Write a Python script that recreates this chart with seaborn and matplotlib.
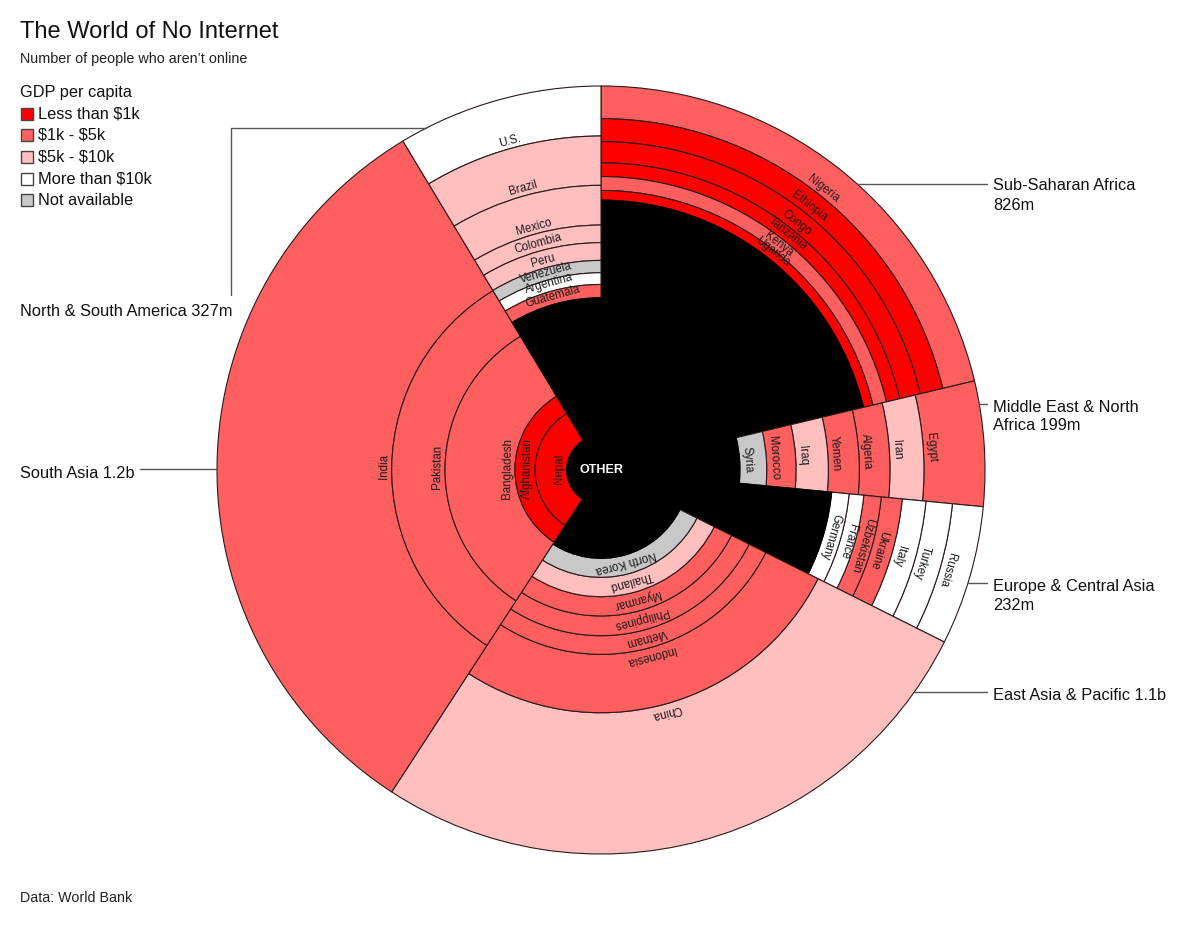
import numpy as np
import matplotlib
matplotlib.use("Agg")
import matplotlib.pyplot as plt
import seaborn as sns
from matplotlib.patches import Rectangle
from matplotlib.lines import Line2D

sns.set_theme(style="white")
plt.rcParams['font.family'] = ['Liberation Sans', 'DejaVu Sans']
plt.rcParams['text.parse_math'] = False

# ---------------- data (millions of people offline) ----------------
region_names = ["Sub-Saharan Africa", "Middle East & North Africa", "Europe & Central Asia",
                "East Asia & Pacific", "South Asia", "North & South America"]

ssa_countries = ["Nigeria", "Ethiopia", "Congo", "Tanzania", "Kenya", "Uganda"]
ssa_values = [134.6, 87.6, 75.2, 46.3, 44.6, 29.7]
ssa_gdp = ["mid", "low", "low", "low", "mid", "low"]
ssa_other = 408.0

me_countries = ["Egypt", "Iran", "Algeria", "Yemen", "Iraq", "Morocco", "Syria"]
me_values = [59.7, 28.8, 23.2, 20.8, 18.9, 14.6, 11.3]
me_gdp = ["mid", "high", "mid", "mid", "high", "mid", "na"]
me_other = 26.7

eu_countries = ["Russia", "Turkey", "Italy", "Ukraine", "Uzbekistan", "France", "Germany"]
eu_values = [35.3, 27.9, 23.2, 19.0, 14.8, 11.7, 13.0]
eu_gdp = ["rich", "rich", "rich", "mid", "mid", "rich", "rich"]
eu_other = 83.0

ea_countries = ["China", "Indonesia", "Vietnam", "Philippines", "Myanmar", "Thailand", "North Korea"]
ea_values = [624.5, 175.9, 46.0, 43.4, 37.0, 32.0, 26.2]
ea_gdp = ["high", "mid", "mid", "mid", "mid", "high", "na"]
ea_other = 55.0

sa_countries = ["India", "Pakistan", "Bangladesh", "Afghanistan", "Nepal"]
sa_values = [879.0, 165.0, 143.5, 25.9, 26.9]
sa_gdp = ["mid", "mid", "mid", "low", "low"]
sa_other = 10.0

am_countries = ["U.S.", "Brazil", "Mexico", "Colombia", "Peru", "Venezuela", "Argentina", "Guatemala"]
am_values = [81.6, 69.3, 47.8, 18.9, 17.6, 11.4, 10.2, 10.8]
am_gdp = ["rich", "high", "high", "high", "high", "na", "rich", "mid"]
am_other = 67.4

gdp_keys = ["low", "mid", "high", "rich", "na"]
gdp_labels = ["Less than $1k", "$1k - $5k", "$5k - $10k", "More than $10k", "Not available"]
gdp_colors = ["#ff0000", "#ff5f5f", "#ffbfbf", "#ffffff", "#c8c8c8"]

region_label_lines = [["Sub-Saharan Africa", "826m"], ["Middle East & North", "Africa 199m"],
                      ["Europe & Central Asia", "232m"], ["East Asia & Pacific 1.1b"],
                      ["South Asia 1.2b"], ["North & South America 327m"]]

# ---------------- figure ----------------
W, H = 1178, 925
fig = plt.figure(figsize=(W / 100, H / 100), dpi=100)
fig.patch.set_facecolor("white")

cx, cy, Rpx = 601, 470, 384
rmax = 1.01
ax = fig.add_axes([(cx - Rpx * rmax) / W, (H - cy - Rpx * rmax) / H,
                   2 * Rpx * rmax / W, 2 * Rpx * rmax / H], projection="polar")
ax.set_theta_zero_location("N")
ax.set_theta_direction(-1)
ax.set_ylim(0, rmax)
ax.set_axis_off()

cmap = dict(zip(gdp_keys, gdp_colors))
regions = [
    (ssa_countries, ssa_values, ssa_gdp, ssa_other),
    (me_countries, me_values, me_gdp, me_other),
    (eu_countries, eu_values, eu_gdp, eu_other),
    (ea_countries, ea_values, ea_gdp, ea_other),
    (sa_countries, sa_values, sa_gdp, sa_other),
    (am_countries, am_values, am_gdp, am_other),
]
totals = np.array([sum(v) + o for (_, v, _, o) in regions])
widths = totals / totals.sum() * 2 * np.pi
starts = np.concatenate([[0], np.cumsum(widths)[:-1]])

edge = "#2a1a1a"
pad = 1.5 / Rpx
for (names, vals, gdp, other), t0, w, T in zip(regions, starts, widths, totals):
    mid = t0 + w / 2
    cum = 0.0
    r_out = 1.0
    for n, v, g in zip(names, vals, gdp):
        cum += v
        r_in = np.sqrt(max(1 - cum / T, 0))
        ax.bar(mid, r_out - r_in, width=w, bottom=r_in, color=cmap[g],
               edgecolor=edge, linewidth=0.8, align="center", clip_on=False)
        rot = -np.degrees(mid)
        ax.text(mid, r_in + pad, n, rotation=rot, rotation_mode="anchor",
                ha="center", va="bottom", fontsize=8.3, color="#1a1a1a")
        r_out = r_in
    ax.bar(mid, r_out, width=w, bottom=0, color="black", edgecolor="black",
           linewidth=0.8, align="center")

ax.text(0, 0, "OTHER", ha="center", va="center", color="white",
        fontsize=9, fontweight="bold")

# ---------------- title, legend, annotations ----------------
def fx(x):
    return x / W

def fy(y):
    return 1 - y / H

fs_lab = 11.8
fig.text(fx(20), fy(32), "The World of No Internet", fontsize=17, va="center", color="#111111")
fig.text(fx(20), fy(59), "Number of people who aren\u2019t online", fontsize=10.4, va="center", color="#222222")
fig.text(fx(20), fy(92), "GDP per capita", fontsize=fs_lab, va="center", color="#111111")
for i, (lab, col) in enumerate(zip(gdp_labels, gdp_colors)):
    y = 113.5 + i * 21.7
    fig.add_artist(Rectangle((fx(21), fy(y + 6)), 12 / W, 12 / H, transform=fig.transFigure,
                             facecolor=col, edgecolor="#444444", linewidth=1))
    fig.text(fx(38), fy(y), lab, fontsize=fs_lab, va="center", color="#111111")

line_col = "#555555"

def circ_x(y, side=1):
    return cx + side * np.sqrt(Rpx ** 2 - (y - cy) ** 2)

def hline(x1, x2, y):
    fig.add_artist(Line2D([fx(x1), fx(x2)], [fy(y), fy(y)], transform=fig.transFigure,
                          color=line_col, linewidth=1))

# right side labels
right_specs = [(184, [186, 206]), (404, [407, 426]), (583, [586, 605]), (692, [695])]
for (ly, tys), lines in zip(right_specs, region_label_lines[:4]):
    hline(circ_x(ly), 987, ly)
    for ty, s in zip(tys, lines):
        fig.text(fx(993), fy(ty), s, fontsize=fs_lab, va="center", color="#111111")

# South Asia
hline(140, circ_x(469.3, -1), 469.3)
fig.text(fx(20), fy(473), region_label_lines[4][0], fontsize=fs_lab, va="center", color="#111111")
# Americas
fig.add_artist(Line2D([fx(231), fx(231), fx(circ_x(128.3, -1))], [fy(295), fy(128.3), fy(128.3)],
                      transform=fig.transFigure, color=line_col, linewidth=1))
fig.text(fx(20), fy(311), region_label_lines[5][0], fontsize=fs_lab, va="center", color="#111111")

fig.text(fx(20), fy(898), "Data: World Bank", fontsize=10.3, va="center", color="#222222")

fig.savefig("out.png", dpi=100, facecolor="white")
